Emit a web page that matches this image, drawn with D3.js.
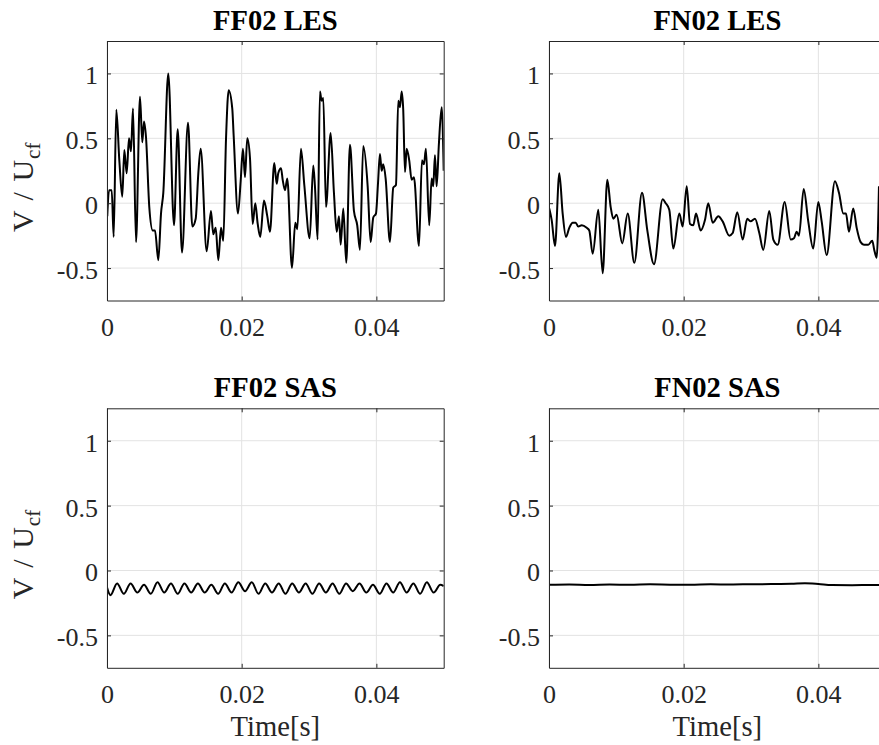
<!DOCTYPE html>
<html>
<head>
<meta charset="utf-8">
<script src="https://cdn.jsdelivr.net/npm/d3@7"></script>
<style>
  html, body { margin: 0; padding: 0; background: #fff; }
  svg { display: block; }
  text { font-family: "Liberation Serif", "Times New Roman", serif; fill: #262626; }
</style>
</head>
<body>
<svg id="chart" width="879" height="745"></svg>
<script>
// ---------------- DATA ----------------
const xTicks = [0, 0.02, 0.04];
const xTickLabels = ["0", "0.02", "0.04"];
const yTicks = [-0.5, 0, 0.5, 1];
const yTickLabels = ["-0.5", "0", "0.5", "1"];
const titles = ["FF02 LES", "FN02 LES", "FF02 SAS", "FN02 SAS"];
const xLabel = "Time[s]";

// time in milliseconds, velocity ratio V/Ucf
const ff02LesTime = [0.04,0.30,0.70,0.99,1.38,1.83,2.27,2.57,2.92,3.27,3.56,3.86,4.31,4.90,5.24,5.49,5.79,6.28,6.79,7.13,7.62,8.02,8.36,9.10,9.95,10.50,11.14,12.03,12.67,13.17,13.56,13.91,14.80,15.44,15.78,16.14,16.53,16.93,17.27,17.67,18.07,18.60,18.81,19.45,19.85,20.19,20.49,20.83,21.23,21.63,22.02,22.38,22.76,23.31,23.80,24.20,24.84,25.20,25.43,25.84,26.09,26.43,26.77,27.47,27.96,28.26,28.80,29.30,30.10,30.63,30.88,31.28,31.62,31.87,32.12,32.52,33.21,33.70,34.11,34.45,34.70,35.09,35.53,36.08,36.67,37.16,37.56,38.05,38.71,39.15,39.54,39.94,40.24,40.53,40.79,41.02,41.38,42.02,42.51,42.91,43.25,43.50,43.76,43.99,44.25,44.50,44.88,45.24,45.58,46.33,46.77,47.07,47.36,47.85,48.21,48.45,48.70,48.95,49.29,49.70,50.00];
const ff02LesValue = [-0.10,0.10,0.10,-0.26,0.72,0.33,0.05,0.41,0.23,0.50,0.40,0.73,-0.30,0.82,0.47,0.63,0.51,-0.03,-0.21,-0.21,-0.44,-0.08,0.08,1.00,-0.17,0.57,-0.38,0.62,-0.18,-0.12,0.23,0.42,-0.37,-0.06,-0.24,-0.19,-0.44,-0.19,-0.29,0.49,0.87,0.73,0.52,-0.08,0.17,0.42,0.20,0.50,0.35,-0.16,0.00,-0.16,-0.26,0.02,-0.10,-0.22,0.31,0.15,0.23,0.27,0.18,0.10,0.19,-0.50,-0.15,-0.20,0.42,0.14,-0.27,0.29,0.13,-0.28,0.86,0.79,0.81,-0.03,0.54,0.08,-0.22,-0.10,-0.32,-0.04,-0.46,0.45,-0.06,-0.17,-0.36,0.44,0.13,-0.30,-0.11,-0.08,0.15,0.38,0.25,0.30,0.19,-0.30,0.12,0.14,0.79,0.74,0.86,0.72,0.24,0.42,0.33,0.18,0.20,-0.33,0.33,0.30,0.42,-0.17,0.19,0.13,0.37,0.13,0.46,0.74,0.25];

const fn02LesTime = [0.04,0.40,0.89,1.53,2.03,2.52,3.01,3.52,3.96,4.35,4.86,5.60,5.98,6.49,7.32,7.97,8.66,9.16,9.55,10.05,10.88,11.69,12.67,13.81,14.60,15.59,16.88,17.33,17.86,18.46,19.35,19.85,20.45,20.94,21.43,21.83,22.52,23.16,23.65,24.31,25.14,25.79,26.77,27.28,27.96,28.76,29.44,29.95,30.59,31.23,31.82,32.71,33.31,33.96,35.00,35.89,36.38,36.78,37.12,37.82,38.50,39.24,39.99,40.49,41.23,42.46,43.06,43.70,44.10,44.54,45.18,45.69,46.28,46.77,47.41,48.00,48.30,48.66,49.00];
const fn02LesValue = [-0.04,-0.13,-0.33,0.23,-0.08,-0.26,-0.19,-0.15,-0.15,-0.18,-0.17,-0.19,-0.21,-0.39,-0.05,-0.54,0.18,-0.03,-0.12,-0.09,-0.31,-0.08,-0.46,0.08,-0.21,-0.47,0.03,0.00,-0.05,-0.35,-0.08,-0.18,0.13,-0.16,-0.17,-0.08,-0.21,-0.13,0.00,-0.15,-0.10,-0.14,-0.25,-0.23,-0.07,-0.28,-0.12,-0.14,-0.12,-0.23,-0.36,-0.06,-0.28,-0.32,0.01,-0.28,-0.27,-0.22,-0.25,0.11,-0.14,-0.35,0.01,-0.14,-0.40,0.17,0.08,-0.08,-0.08,-0.22,-0.04,-0.19,-0.30,-0.32,-0.32,-0.29,-0.36,-0.42,0.13];

const ff02SasTime = [0.0,0.5,1.5,2.5,3.5,4.5,5.5,6.5,7.5,8.5,9.5,10.5,11.5,12.5,13.5,14.5,15.5,16.5,17.5,18.5,19.5,20.5,21.5,22.5,23.5,24.5,25.5,26.5,27.5,28.5,29.5,30.5,31.5,32.5,33.5,34.5,35.5,36.5,37.5,38.5,39.5,40.5,41.5,42.5,43.5,44.5,45.5,46.5,47.5,48.5,49.5,50.0];
const ff02SasValue = [-0.13,-0.19,-0.10,-0.18,-0.10,-0.17,-0.11,-0.18,-0.09,-0.17,-0.10,-0.18,-0.10,-0.17,-0.10,-0.17,-0.11,-0.18,-0.10,-0.17,-0.09,-0.16,-0.09,-0.18,-0.10,-0.17,-0.10,-0.18,-0.10,-0.17,-0.10,-0.18,-0.10,-0.17,-0.10,-0.18,-0.10,-0.16,-0.10,-0.17,-0.11,-0.18,-0.10,-0.17,-0.09,-0.17,-0.10,-0.18,-0.09,-0.17,-0.11,-0.12];

const fn02SasTime = [0,3,6,9,12,15,18,21,24,27,30,33,36,38,40,42,45,48,50];
const fn02SasValue = [-0.110,-0.108,-0.111,-0.108,-0.110,-0.106,-0.109,-0.110,-0.107,-0.108,-0.106,-0.105,-0.103,-0.099,-0.104,-0.112,-0.113,-0.112,-0.112];

// ---------------- LAYOUT ----------------
const svg = d3.select("#chart");
const fontTick = 26, fontLabel = 28.6;
const panels = [
  {title: titles[0], t: ff02LesTime, v: ff02LesValue, x0: 107, y0: 41, ylab: true, xlab: false},
  {title: titles[1], t: fn02LesTime, v: fn02LesValue, x0: 549, y0: 41, ylab: false, xlab: false},
  {title: titles[2], t: ff02SasTime, v: ff02SasValue, x0: 107, y0: 408.3, ylab: true, xlab: true},
  {title: titles[3], t: fn02SasTime, v: fn02SasValue, x0: 549, y0: 408.3, ylab: false, xlab: true}
];
const W = 336.7, H = 259.5;
const axisColor = "#262626", gridColor = "#e3e3e3";

panels.forEach(p => {
  const x = d3.scaleLinear().domain([0, 0.05]).range([p.x0, p.x0 + W]);
  const y = d3.scaleLinear().domain([-0.75, 1.25]).range([p.y0 + H, p.y0]);
  const g = svg.append("g");

  // grid
  g.selectAll(".gx").data(xTicks).enter().append("line")
    .attr("x1", d => x(d)).attr("x2", d => x(d))
    .attr("y1", p.y0).attr("y2", p.y0 + H)
    .attr("stroke", gridColor).attr("stroke-width", 1);
  g.selectAll(".gy").data(yTicks).enter().append("line")
    .attr("x1", p.x0).attr("x2", p.x0 + W)
    .attr("y1", d => y(d)).attr("y2", d => y(d))
    .attr("stroke", gridColor).attr("stroke-width", 1);

  // data line
  const pts = p.t.map((t, i) => [t / 1000, p.v[i]]);
  const clipId = "clip" + p.x0 + "_" + Math.round(p.y0);
  svg.append("clipPath").attr("id", clipId).append("rect")
    .attr("x", p.x0).attr("y", p.y0).attr("width", W).attr("height", H);
  g.append("path").datum(pts)
    .attr("clip-path", `url(#${clipId})`)
    .attr("fill", "none").attr("stroke", "#000").attr("stroke-width", 2)
    .attr("stroke-linejoin", "round")
    .attr("d", d3.line().x(d => x(d[0])).y(d => y(d[1])).curve(d3.curveMonotoneX));

  // axes (box with inward ticks)
  const axB = d3.axisBottom(x).tickValues(xTicks).tickSizeInner(-4).tickSizeOuter(0).tickFormat((d, i) => xTickLabels[i]);
  const axT = d3.axisTop(x).tickValues(xTicks).tickSizeInner(-4).tickSizeOuter(0).tickFormat("");
  const axL = d3.axisLeft(y).tickValues(yTicks).tickSizeInner(-4).tickSizeOuter(0).tickFormat((d, i) => yTickLabels[i]);
  const axR = d3.axisRight(y).tickValues(yTicks).tickSizeInner(-4).tickSizeOuter(0).tickFormat("");

  const gb = g.append("g").attr("transform", `translate(0,${p.y0 + H})`).call(axB);
  const gt = g.append("g").attr("transform", `translate(0,${p.y0})`).call(axT);
  const gl = g.append("g").attr("transform", `translate(${p.x0},0)`).call(axL);
  const gr = g.append("g").attr("transform", `translate(${p.x0 + W},0)`).call(axR);
  [gb, gt, gl, gr].forEach(a => {
    a.attr("font-family", null);
    a.select(".domain").attr("stroke", axisColor).attr("stroke-width", 1);
    a.selectAll(".tick line").attr("stroke", axisColor).attr("stroke-width", 1);
    a.selectAll("text").style("font-family", "'Liberation Serif', serif").attr("fill", axisColor).attr("font-size", fontTick);
  });
  gb.selectAll(".tick text").attr("y", 0).attr("dy", 0).attr("transform", "translate(0,35)");
  gl.selectAll(".tick text").attr("x", -9).attr("dy", 0).attr("transform", "translate(0,10.5)");

  // title
  svg.append("text")
    .attr("x", p.x0 + W / 2).attr("y", p.y0 - 11.5)
    .attr("text-anchor", "middle")
    .attr("font-size", fontLabel).attr("font-weight", "bold")
    .style("fill", "#000")
    .text(p.title);

  // x label
  if (p.xlab) {
    svg.append("text")
      .attr("x", p.x0 + W / 2).attr("y", p.y0 + H + 68)
      .attr("text-anchor", "middle")
      .attr("font-size", fontLabel)
      .text(xLabel);
  }
  // y label
  if (p.ylab) {
    const startY = p.y0 + 191;
    const t = svg.append("text")
      .attr("transform", `translate(33,${startY}) rotate(-90)`)
      .attr("text-anchor", "start")
      .attr("font-size", 30)
      .attr("word-spacing", 3);
    t.append("tspan").text("V / U");
    t.append("tspan").attr("font-size", 21).attr("dy", 7).attr("dx", 1).text("cf");
  }
});
</script>
</body>
</html>
